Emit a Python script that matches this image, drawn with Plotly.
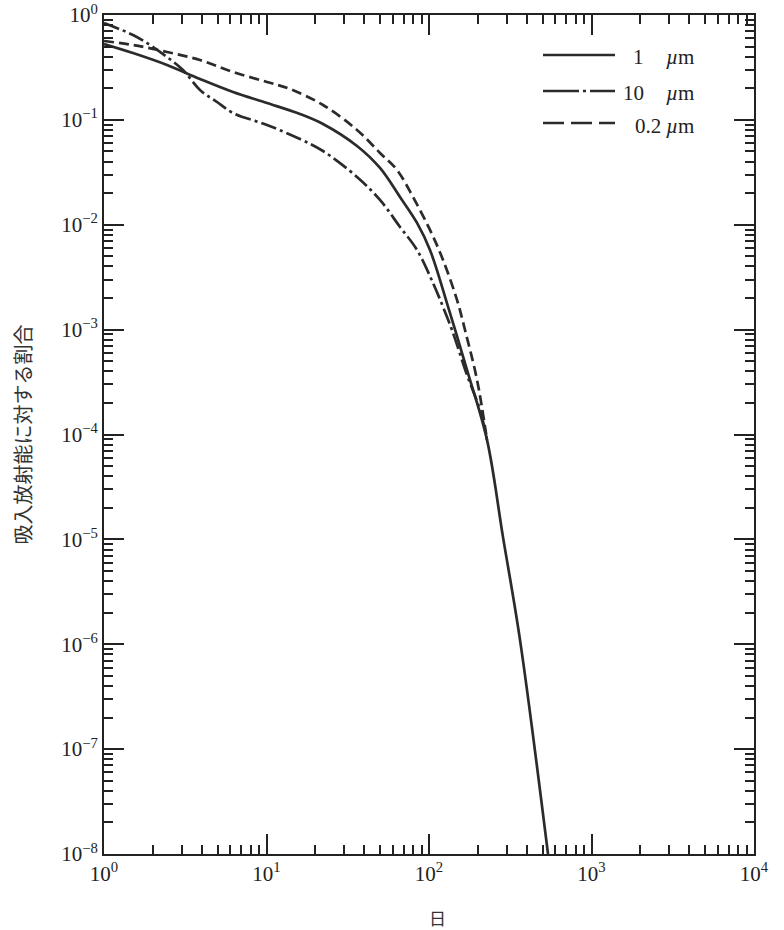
import plotly.graph_objects as go

# Days after intake and fraction of inhaled activity
solid_x = [1, 1.508, 2.442, 3.898, 6.22, 10.07, 16.08, 22.27, 36.06, 49.94, 66.3, 84.4,
           101.4, 132.8, 171.3, 227.5, 285.4, 363.1, 540]
solid_y = [0.529, 0.434, 0.334, 0.2454, 0.1845, 0.1449, 0.1138, 0.0914, 0.0564, 0.0348,
           0.0184, 0.0104, 0.00575, 0.00154, 4.13e-4, 8.88e-5, 1.05e-5, 1.10e-6, 1.0e-8]

dashdot_x = [1, 1.508, 1.919, 2.442, 3.063, 3.898, 4.96, 6.22, 10.07, 16.08, 22.27, 36.06,
             49.94, 66.3, 84.4, 105.8, 122.0, 138.5, 171.3, 206.0, 227.5]
dashdot_y = [0.839, 0.645, 0.5176, 0.3978, 0.2990, 0.1928, 0.1481, 0.1163, 0.0894, 0.0657,
             0.0505, 0.02855, 0.01723, 0.00953, 0.00575, 0.00279, 0.001646, 9.93e-4,
             3.70e-4, 1.716e-4, 8.88e-5]

dashed_x = [1, 1.508, 2.442, 3.898, 6.22, 10.07, 13.95, 22.27, 36.06, 49.94, 63.55, 79.7,
            101.4, 122.0, 148.7, 166.5, 197.5, 227.5]
dashed_y = [0.565, 0.5176, 0.4439, 0.3724, 0.2862, 0.2298, 0.1970, 0.1387, 0.0801, 0.0484,
            0.0333, 0.0184, 0.00892, 0.00462, 0.00192, 9.93e-4, 3.32e-4, 8.88e-5]

legend_nums = ["1", "10", "0.2"]
x_tickvals = [1, 10, 100, 1000, 10000]
x_ticktext = ["10<sup>0</sup>", "10<sup>1</sup>", "10<sup>2</sup>", "10<sup>3</sup>", "10<sup>4</sup>"]
y_tickvals = [10.0 ** (-k) for k in range(0, 9)]
y_ticktext = ["10<sup>0</sup>"] + ["10<sup>\u2212%d</sup>" % k for k in range(1, 9)]

LINE = "#2b2b2b"
DASHDOT = "16px,4px,3px,4px"
DASHED = "10px,5px"
W = 2.7
SM = 1.0

fig = go.Figure()
fig.add_trace(go.Scatter(x=solid_x, y=solid_y, mode="lines", showlegend=False,
                         line=dict(color=LINE, width=W, shape="spline", smoothing=SM)))
fig.add_trace(go.Scatter(x=dashdot_x, y=dashdot_y, mode="lines", showlegend=False,
                         line=dict(color=LINE, width=W, dash=DASHDOT, shape="spline", smoothing=SM)))
fig.add_trace(go.Scatter(x=dashed_x, y=dashed_y, mode="lines", showlegend=False,
                         line=dict(color=LINE, width=W, dash=DASHED, shape="spline", smoothing=SM)))
# invisible helper trace so the mirrored tick axes (top/right) are drawn
fig.add_trace(go.Scatter(x=[10], y=[1e-4], mode="markers", marker=dict(opacity=0),
                         hoverinfo="skip", showlegend=False, xaxis="x2", yaxis="y2"))

# manual legend (paper coords)
L, R, T, B = 104, 754, 15, 854
def px(xp): return (xp - L) / (R - L)
def py(yp): return (B - yp) / (B - T)

rows = [55, 91, 123]
legend_dashes = ["solid", "36px,4px,3px,4px", "21px,7px"]
for r, d in zip(rows, legend_dashes):
    fig.add_shape(type="line", xref="paper", yref="paper", x0=px(543), x1=px(615),
                  y0=py(r), y1=py(r), line=dict(color=LINE, width=2.6, dash=d))
serif = "Liberation Serif"
tf = dict(family=serif, size=21, color="#222")
fig.add_annotation(xref="paper", yref="paper", x=px(646), y=py(rows[0] + 2), text=legend_nums[0],
                   showarrow=False, xanchor="right", yanchor="middle", font=tf)
fig.add_annotation(xref="paper", yref="paper", x=px(646), y=py(rows[1] + 2), text=legend_nums[1],
                   showarrow=False, xanchor="right", yanchor="middle", font=tf)
fig.add_annotation(xref="paper", yref="paper", x=px(633), y=py(rows[2] + 3), text=legend_nums[2],
                   showarrow=False, xanchor="left", yanchor="middle", font=tf)
for r in rows:
    fig.add_annotation(xref="paper", yref="paper", x=px(664), y=py(r + 2 + (r == rows[2])),
                       text="<i>\u00b5</i>m", showarrow=False, xanchor="left",
                       yanchor="middle", font=tf)

# axis titles
fig.add_annotation(xref="paper", yref="paper", x=px(22), y=0.5, text="吸入放射能に対する割合",
                   textangle=-90, showarrow=False, xanchor="center", yanchor="middle",
                   font=dict(family="Noto Sans CJK JP", size=20, color="#333"))
fig.add_annotation(xref="paper", yref="paper", x=px(437), y=py(917), text="日",
                   showarrow=False, xanchor="center", yanchor="middle",
                   font=dict(family="Noto Sans CJK JP", size=17, color="#333"))

x_minor = [m * 10 ** e for e in range(0, 4) for m in range(2, 10)]
y_minor = [m * 10.0 ** e for e in range(-8, 0) for m in range(2, 10)]

tick_common = dict(ticks="inside", ticklen=20, tickwidth=2, tickcolor="#222",
                   showgrid=False, zeroline=False, automargin=False)
x_minor_d = dict(tickmode="array", tickvals=x_minor, ticks="inside", ticklen=9,
                 tickwidth=1.8, tickcolor="#222", showgrid=False)
y_minor_d = dict(tickmode="array", tickvals=y_minor, ticks="inside", ticklen=9,
                 tickwidth=1.8, tickcolor="#222", showgrid=False)
tickfont = dict(family=serif, size=21, color="#222")

fig.update_layout(
    width=784, height=930, margin=dict(l=L, r=784 - R, t=T, b=930 - B),
    paper_bgcolor="white", plot_bgcolor="white", showlegend=False,
    xaxis=dict(type="log", range=[0, 4], tickmode="array", tickvals=x_tickvals,
               ticktext=x_ticktext, minor=x_minor_d, showline=True, linecolor="#222",
               linewidth=2, mirror=True, tickfont=tickfont, **tick_common),
    yaxis=dict(type="log", range=[-8, 0], tickmode="array", tickvals=y_tickvals,
               ticktext=y_ticktext, minor=y_minor_d, showline=True, linecolor="#222",
               linewidth=2, mirror=True, tickfont=tickfont, **tick_common),
    xaxis2=dict(type="log", range=[0, 4], overlaying="x", side="top", anchor="y2",
                tickmode="array", tickvals=x_tickvals, showticklabels=False,
                minor=x_minor_d, showline=False, **tick_common),
    yaxis2=dict(type="log", range=[-8, 0], overlaying="y", side="right", anchor="x2",
                tickmode="array", tickvals=y_tickvals, showticklabels=False,
                minor=y_minor_d, showline=False, **tick_common),
)

fig.write_html("out.html")
